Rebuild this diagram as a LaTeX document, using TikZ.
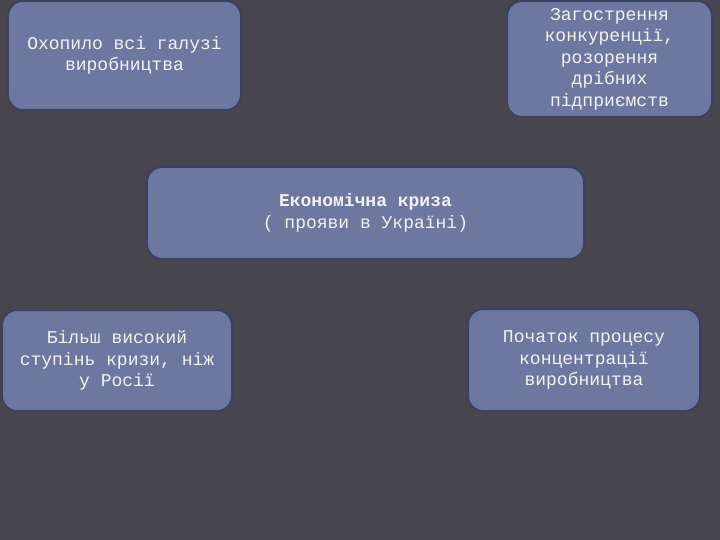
\documentclass[tikz,border=0pt]{standalone}
\usepackage{fontspec}
\setmonofont{Liberation Mono}
\definecolor{bgc}{HTML}{47454D}
\definecolor{boxfill}{HTML}{6E77A0}
\definecolor{boxline}{HTML}{3A4260}
\definecolor{txt}{HTML}{F2F2F2}
\begin{document}
\begin{tikzpicture}[x=1bp,y=-1bp,
  card/.style={draw=boxline, line width=2bp, fill=boxfill, rounded corners=15bp,
    inner sep=0pt, align=center, text=txt,
    font=\ttfamily\fontsize{18bp}{21.5bp}\selectfont}]
\fill[bgc] (0,0) rectangle (720,540);
\useasboundingbox (0,0) rectangle (720,540);
\node[card, minimum width=233bp, minimum height=109bp] (b1) at (124.5,55.5)
  {Охопило всі галузі\\виробництва};
\node[card, minimum width=205bp, minimum height=116bp] (b2) at (609.5,59)
  {Загострення\\конкуренції,\\розорення\\дрібних\\підприємств};
\node[card, minimum width=437bp, minimum height=92bp] (c) at (365.5,213)
  {\textbf{Економічна криза}\\( прояви в Україні)};
\node[card, minimum width=230bp, minimum height=101bp] (b3) at (117,360.5)
  {Більш високий\\ступінь кризи, ніж\\у Росії};
\node[card, minimum width=232bp, minimum height=102bp] (b4) at (584,360)
  {Початок процесу\\концентрації\\виробництва};
\end{tikzpicture}
\end{document}
